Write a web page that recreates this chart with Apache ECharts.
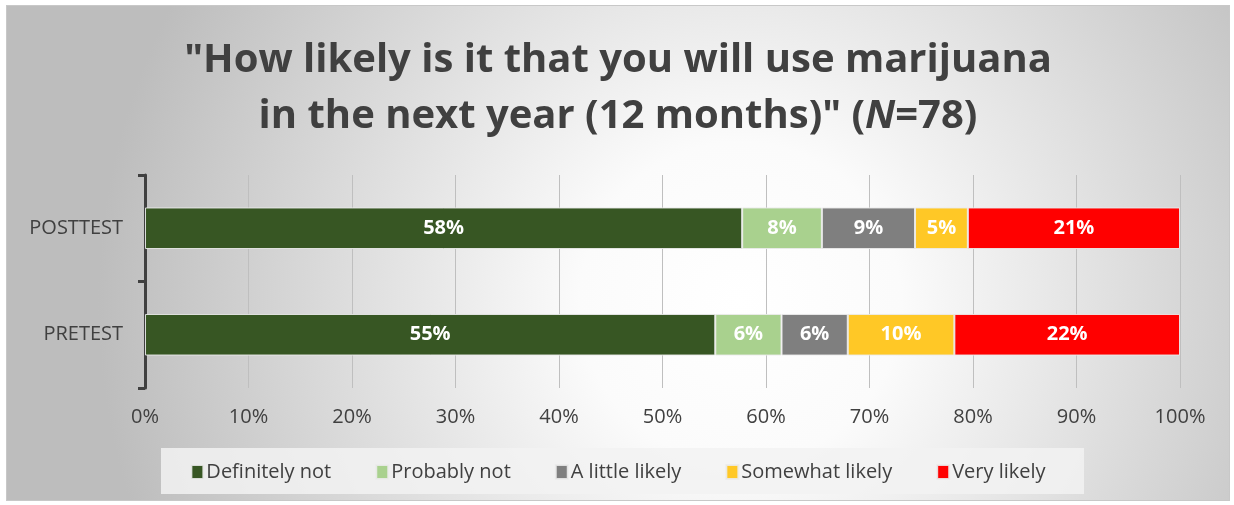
<!DOCTYPE html>
<html>
<head>
<meta charset="utf-8">
<script src="https://cdn.jsdelivr.net/npm/echarts@6/dist/echarts.min.js"></script>
<style>
  html, body { margin: 0; padding: 0; background: #fff; }
  #chart { position: absolute; left: 6px; top: 5px; width: 1222px; height: 494px; border: 1px solid #c8c8c8; }
</style>
</head>
<body>
<div id="chart"></div>
<script>
// données (pourcentages, N=78)
const categories = ["POSTTEST", "PRETEST"];
const definitelyNot = [57.7, 55.1];
const probablyNot = [7.7, 6.4];
const aLittleLikely = [9.0, 6.4];
const somewhatLikely = [5.1, 10.3];
const veryLikely = [20.5, 21.8];
const seriesNames = ["Definitely not", "Probably not", "A little likely", "Somewhat likely", "Very likely"];
const seriesColors = ["#375623", "#a9d18e", "#7f7f7f", "#ffc826", "#ff0000"];
const tickLabels = ["0%", "10%", "20%", "30%", "40%", "50%", "60%", "70%", "80%", "90%", "100%"];

const font = "'Open Sans', 'Noto Sans', sans-serif";
const allValues = [definitelyNot, probablyNot, aLittleLikely, somewhatLikely, veryLikely];

const chart = echarts.init(document.getElementById("chart"));

const option = {
    backgroundColor: new echarts.graphic.RadialGradient(0.6, 0.6, 1.3, [
        { offset: 0, color: "#ffffff" },
        { offset: 0.25, color: "#fbfbfb" },
        { offset: 1, color: "#bdbdbd" }
    ]),
    textStyle: { fontFamily: font },
    title: {
        text: '"How likely is it that you will use marijuana\nin the next year (12 months)" ({i|N}=78)',
        left: "center",
        top: 22,
        textStyle: {
            fontFamily: font,
            fontSize: 40,
            fontWeight: "bold",
            color: "#404040",
            lineHeight: 56,
            rich: {
                i: { fontFamily: font, fontSize: 40, fontWeight: "bold", fontStyle: "italic", color: "#404040", lineHeight: 56 }
            }
        }
    },
    // fond gris clair de la légende
    graphic: [{
        type: "rect",
        shape: { x: 154, y: 442, width: 923, height: 46 },
        style: { fill: "rgba(242,242,242,0.85)" },
        z: 0
    }],
    legend: {
        data: seriesNames,
        left: "center",
        top: 451,
        itemWidth: 12,
        itemHeight: 14,
        itemGap: 44,
        icon: "rect",
        textStyle: { fontFamily: font, fontSize: 20, color: "#404040", padding: [0, 0, 0, -2] }
    },
    grid: { left: 138, right: 49, top: 169, bottom: 112 },
    xAxis: {
        type: "value",
        min: 0,
        max: 100,
        interval: 10,
        axisLine: { show: false },
        axisTick: { show: false },
        splitLine: { lineStyle: { color: "#bfbfbf", width: 1 } },
        axisLabel: {
            margin: 19,
            fontSize: 20,
            color: "#404040",
            formatter: (v) => tickLabels[Math.round(v / 10)]
        }
    },
    yAxis: {
        type: "category",
        data: categories,
        inverse: true,
        axisLine: { show: true, lineStyle: { color: "#404040", width: 3 } },
        axisTick: { show: true, length: 7, lineStyle: { color: "#404040", width: 3 } },
        axisLabel: { margin: 22, fontSize: 20, color: "#404040" }
    },
    series: seriesNames.map((name, i) => ({
        name: name,
        type: "bar",
        stack: "total",
        barWidth: "39%",
        data: allValues[i],
        itemStyle: { color: seriesColors[i], borderColor: "rgba(235,235,235,0.9)", borderWidth: 1 },
        label: {
            show: true,
            position: "inside",
            color: "#ffffff",
            fontFamily: font,
            fontSize: 20,
            fontWeight: "bold",
            formatter: (p) => Math.round(p.value) + "%"
        }
    }))
};

chart.setOption(option);
</script>
</body>
</html>
